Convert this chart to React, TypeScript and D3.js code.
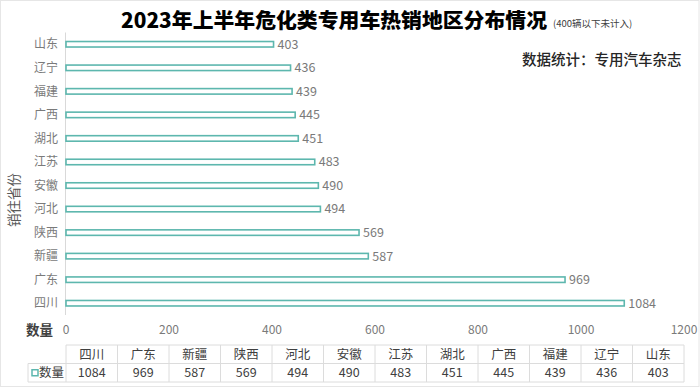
import React from 'react';
import * as d3 from 'd3';

// chart data
const provinces = ['四川', '广东', '新疆', '陕西', '河北', '安徽', '江苏', '湖北', '广西', '福建', '辽宁', '山东'];
const amounts = [1084, 969, 587, 569, 494, 490, 483, 451, 445, 439, 436, 403];
const xTicks = [0, 200, 400, 600, 800, 1000, 1200];

const seriesName = '数量';
const title = '2023年上半年危化类专用车热销地区分布情况';
const subtitle = '(400辆以下未计入)';
const source = '数据统计：专用汽车杂志';
const yTitle = '销往省份';

const W = 700;
const H = 388;
const teal = '#5db7ae';
const font = '"Noto Sans CJK SC", "Noto Sans", sans-serif';

export default function App() {
  const x = d3.scaleLinear().domain([0, 1200]).range([66, 684]);
  // 四川 at the bottom, 山东 on top
  const y = d3.scaleBand().domain(provinces).range([315, 32.5]);
  const barH = 5.5;

  const cols = d3.scaleBand().domain(provinces).range([66, 684]);
  const tableTop = 345;
  const rowH = 18.5;

  return (
    <div style={{ position: 'absolute', left: 0, top: 0 }}>
      <svg width={W} height={H} style={{ display: 'block', fontFamily: font }}>
        <rect x={0} y={0} width={W} height={H} fill="#fff" />
        <rect x={0.5} y={0.5} width={W - 1.5} height={H - 2} fill="none" stroke="#e6e6e6" />

        {/* titles */}
        <text x={121} y={28} fontSize={20.5} fontWeight={900} fill="#000"
          textLength={426} lengthAdjust="spacingAndGlyphs">{title}</text>
        <text x={553} y={27} fontSize={9.5} fill="#404040">{subtitle}</text>
        <text x={522} y={65} fontSize={14.5} fontWeight={500} fill="#262626">{source}</text>

        {/* y axis title */}
        <text transform="translate(19,200) rotate(-90)" textAnchor="middle" fontSize={13.5} fill="#595959">{yTitle}</text>

        {/* y axis line */}
        <line x1={65.5} x2={65.5} y1={y.range()[1]} y2={y.range()[0]} stroke="#d9d9d9" strokeWidth={1} />

        {/* categories, bars, values */}
        {provinces.map((p, i) => {
          const cy = (y(p) as number) + y.bandwidth() / 2;
          return (
            <g key={p}>
              <text x={58} y={cy} dy="0.35em" textAnchor="end" fontSize={12} fill="#7a7a7a">{p}</text>
              <rect x={x(0)} y={cy - barH / 2} width={x(amounts[i]) - x(0)} height={barH}
                fill="#fff" stroke={teal} strokeWidth={1.6} />
              <text x={x(amounts[i]) + 4} y={cy} dy="0.35em" fontSize={12.5} fill="#7a7a7a">{amounts[i]}</text>
            </g>
          );
        })}

        {/* x tick labels */}
        <text x={39.5} y={330} dy="0.35em" textAnchor="middle" fontSize={13.5} fontWeight="bold" fill="#404040">{seriesName}</text>
        {xTicks.map(t => (
          <text key={t} x={x(t)} y={330} dy="0.35em" textAnchor="middle" fontSize={12} fill="#7a7a7a">{t}</text>
        ))}

        {/* data table */}
        <g stroke="#dcdcdc" strokeWidth={1} fill="none">
          <line x1={66} x2={684} y1={tableTop} y2={tableTop} />
          <line x1={28} x2={684} y1={tableTop + rowH} y2={tableTop + rowH} />
          <line x1={28} x2={684} y1={tableTop + 2 * rowH} y2={tableTop + 2 * rowH} />
          <line x1={28} x2={28} y1={tableTop + rowH} y2={tableTop + 2 * rowH} />
          {provinces.map(p => (
            <line key={p} x1={cols(p) as number} x2={cols(p) as number} y1={tableTop} y2={tableTop + 2 * rowH} />
          ))}
          <line x1={684} x2={684} y1={tableTop} y2={tableTop + 2 * rowH} />
        </g>
        <rect x={32} y={tableTop + rowH * 1.5 - 3} width={6} height={6} fill="#fff" stroke={teal} strokeWidth={1.5} />
        <text x={39} y={tableTop + rowH * 1.5} dy="0.35em" fontSize={12.5} fill="#404040">{seriesName}</text>
        {provinces.map((p, i) => {
          const cx = (cols(p) as number) + cols.bandwidth() / 2;
          return (
            <g key={p} textAnchor="middle" fontSize={12.5} fill="#404040">
              <text x={cx} y={tableTop + rowH / 2} dy="0.35em">{p}</text>
              <text x={cx} y={tableTop + rowH * 1.5} dy="0.35em">{amounts[i]}</text>
            </g>
          );
        })}
      </svg>
    </div>
  );
}
